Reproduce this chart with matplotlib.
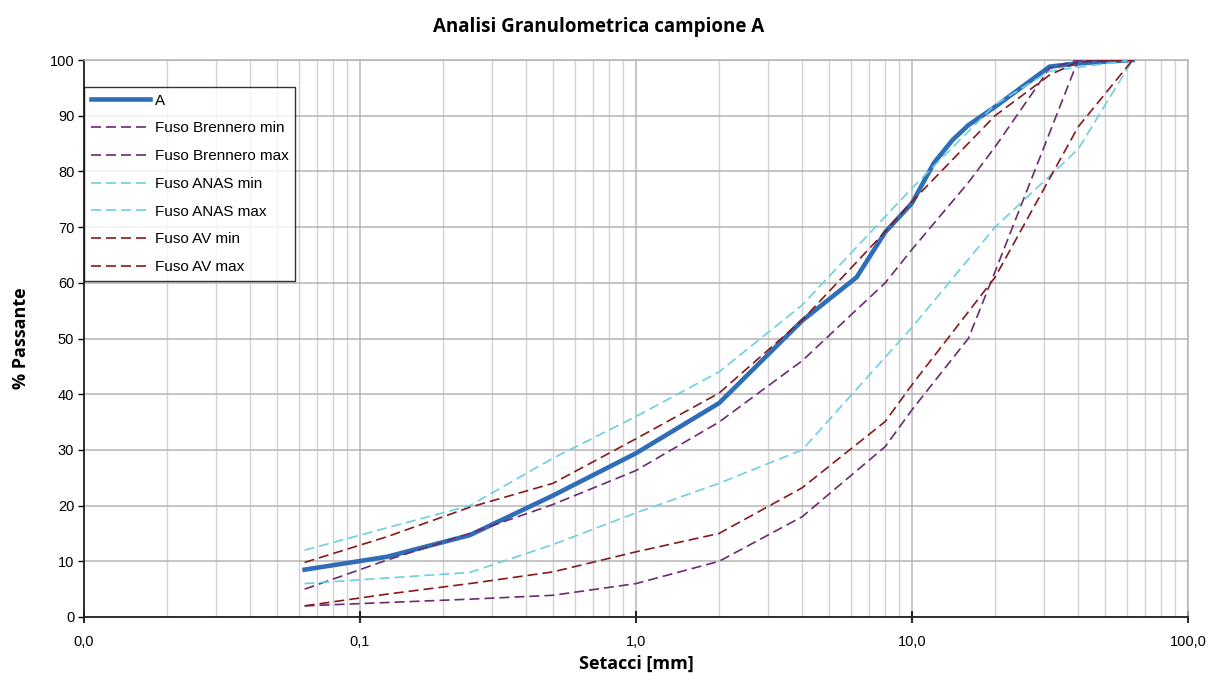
import matplotlib.pyplot as plt
from matplotlib.ticker import FixedLocator, LogLocator, NullFormatter, FixedFormatter

# sieve openings (mm) and % passing for each curve
x_A = [0.063, 0.125, 0.25, 0.5, 1, 2, 4, 6.3, 8, 10, 12, 14, 16, 20, 31.5, 40, 63]
y_A = [8.5, 10.8, 14.7, 21.8, 29.4, 38.4, 53.2, 61.0, 69.1, 74.3, 81.5, 85.6, 88.3, 91.6, 98.8, 99.4, 100]

x_bren_min = [0.063, 0.125, 0.25, 0.5, 1, 2, 4, 8, 10, 16, 20, 40, 63]
y_bren_min = [2, 2.6, 3.2, 3.9, 6, 10, 18, 30.6, 37.2, 50, 62, 100, 100]

x_bren_max = [0.063, 0.125, 0.25, 0.5, 1, 2, 4, 8, 10, 16, 20, 31.5, 40, 63]
y_bren_max = [5, 10.2, 15, 20.2, 26.3, 35, 46, 60, 66, 78, 84.4, 98.5, 100, 100]

x_anas_min = [0.063, 0.125, 0.25, 0.5, 1, 2, 4, 10, 20, 40, 63]
y_anas_min = [6, 7, 8, 13, 18.7, 24, 30, 52, 70, 84, 100]

x_anas_max = [0.063, 0.125, 0.25, 0.5, 1, 2, 4, 10, 20, 31.5, 63]
y_anas_max = [12, 16, 20, 28.5, 36, 44, 56, 77, 92, 98, 100]

x_av_min = [0.063, 0.125, 0.25, 0.5, 1, 2, 4, 8, 10, 20, 40, 63]
y_av_min = [2, 4.1, 6, 8.1, 11.7, 15, 23.2, 35.1, 41.7, 61, 88, 100]

x_av_max = [0.063, 0.125, 0.25, 0.5, 1, 2, 4, 8, 10, 20, 31.5, 40, 63]
y_av_max = [9.8, 14.4, 19.7, 24, 32, 40.2, 53.3, 69.2, 74.6, 90, 97.3, 99.7, 100]

x_ticks = [0.01, 0.1, 1, 10, 100]
x_ticklabels = ["0,0", "0,1", "1,0", "10,0", "100,0"]

tickfont = ["Liberation Sans", "DejaVu Sans"]
boldfont = ["Open Sans", "DejaVu Sans"]

fig = plt.figure(figsize=(12.19, 6.8), dpi=100)
ax = fig.add_axes([84/1219, 63/680, 1104/1219, 557/680])

purple = "#6b2a72"
cyan = "#6dcfe0"
darkred = "#871919"
dash = dict(lw=1.2, dashes=(6, 3))

ax.plot(x_A, y_A, color="#2f6db8", lw=3.3, label="A", zorder=3, solid_joinstyle="miter")
ax.plot(x_bren_min, y_bren_min, color=purple, label="Fuso Brennero min", zorder=4, **dash)
ax.plot(x_bren_max, y_bren_max, color=purple, label="Fuso Brennero max", zorder=4, **dash)
ax.plot(x_anas_min, y_anas_min, color=cyan, label="Fuso ANAS min", zorder=4, **dash)
ax.plot(x_anas_max, y_anas_max, color=cyan, label="Fuso ANAS max", zorder=4, **dash)
ax.plot(x_av_min, y_av_min, color=darkred, label="Fuso AV min", zorder=4, **dash)
ax.plot(x_av_max, y_av_max, color=darkred, label="Fuso AV max", zorder=4, **dash)

ax.set_xscale("log")
ax.set_xlim(0.01, 100)
ax.set_ylim(0, 100)

ax.xaxis.set_major_locator(FixedLocator(x_ticks))
ax.xaxis.set_major_formatter(FixedFormatter(x_ticklabels))
ax.xaxis.set_minor_locator(LogLocator(base=10, subs=range(2, 10), numticks=20))
ax.xaxis.set_minor_formatter(NullFormatter())
ax.set_yticks(range(0, 101, 10))

ax.grid(True, which="major", axis="y", color="#b4b4b4", lw=1.1, zorder=0)
ax.grid(True, which="major", axis="x", color="#b8b8b8", lw=1.1, zorder=0)
ax.grid(True, which="minor", axis="x", color="#d2d2d2", lw=1.0, zorder=0)
ax.set_axisbelow(True)

ax.tick_params(axis="x", which="minor", length=0)
ax.tick_params(axis="x", which="major", direction="inout", length=8, width=1.2, pad=9)
ax.tick_params(axis="y", which="major", direction="out", length=4, width=1.0, pad=3)
for lab in ax.get_xticklabels() + ax.get_yticklabels():
    lab.set_family(tickfont)
    lab.set_fontsize(10.5)

for side in ("left", "bottom"):
    ax.spines[side].set_color("#202020")
    ax.spines[side].set_linewidth(1.3)
for side in ("top", "right"):
    ax.spines[side].set_color("#b4b4b4")
    ax.spines[side].set_linewidth(1.1)

ax.set_title("Analisi Granulometrica campione A", fontsize=13.5, fontweight="bold",
             family=boldfont, pad=20, x=(599 - 84) / 1104)
ax.set_xlabel("Setacci [mm]", fontsize=13, fontweight="bold", family=boldfont, labelpad=4)
ax.set_ylabel("% Passante", fontsize=13, fontweight="bold", family=boldfont, labelpad=14)

leg = ax.legend(loc="upper left", bbox_to_anchor=(0.0, 0.952),
                prop={"family": ["Liberation Sans", "DejaVu Sans"], "size": 11},
                frameon=True, fancybox=False, edgecolor="black", handlelength=3.9,
                handletextpad=0.27, labelspacing=0.9, borderpad=0.45, borderaxespad=0)
leg.get_frame().set_linewidth(1.0)
leg.set_zorder(6)

fig.savefig("out.png", dpi=100)
